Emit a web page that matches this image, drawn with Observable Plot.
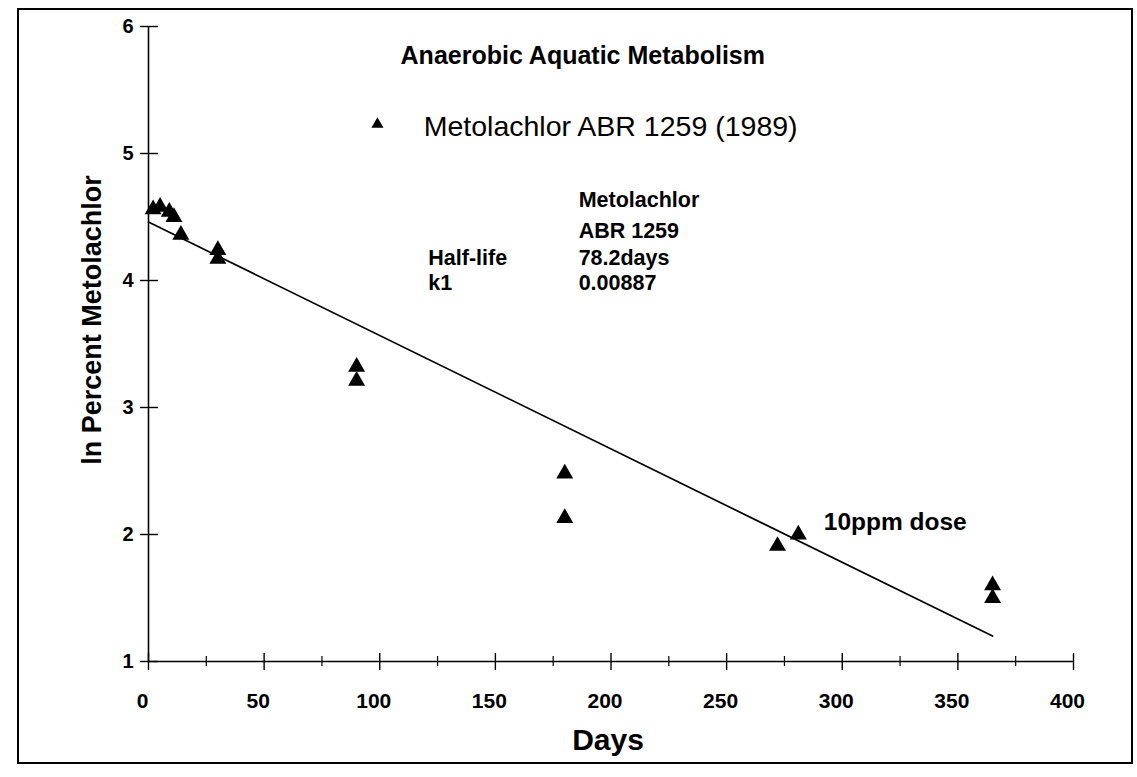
<!DOCTYPE html>
<html>
<head>
<meta charset="utf-8">
<script src="https://cdn.jsdelivr.net/npm/d3@7"></script>
<script src="https://cdn.jsdelivr.net/npm/@observablehq/plot@0.6"></script>
<style>
  html, body { margin: 0; padding: 0; background: #fff; }
  #wrap { position: relative; width: 1137px; height: 777px; overflow: hidden; }
  #border { position: absolute; left: 17px; top: 8px; width: 1112px; height: 752px; border: 2px solid #000; pointer-events: none; }
</style>
</head>
<body>
<div id="wrap"><div id="border"></div></div>
<script>
// Observed data (days vs ln percent metolachlor)
const days      = [2, 5, 9, 11, 14, 30, 30, 90, 90, 180, 180, 272, 281, 365, 365];
const lnPercent = [4.56, 4.58, 4.54, 4.50, 4.36, 4.24, 4.17, 3.32, 3.21, 2.48, 2.13, 1.91, 2.00, 1.60, 1.50];

// Fitted first-order line end points
const fitDays = [0, 365];
const fitLn   = [4.46, 1.20];

// Axis ticks
const xMajorTicks = [0, 50, 100, 150, 200, 250, 300, 350, 400];
const xMinorTicks = [25, 75, 125, 175, 225, 275, 325, 375];
const yTicks = [1, 2, 3, 4, 5, 6];

// Texts
const titleText = "Anaerobic Aquatic Metabolism";
const seriesName = "Metolachlor ABR 1259 (1989)";
const xLabel = "Days";
const yLabel = "ln Percent Metolachlor";
const statHeader = ["Metolachlor", "ABR 1259"];
const statNames = ["Half-life", "k1"];
const statValues = ["78.2days", "0.00887"];
const doseNote = "10ppm dose";

const points = days.map((d, i) => ({day: d, ln: lnPercent[i]}));
const fit = fitDays.map((d, i) => ({day: d, ln: fitLn[i]}));

const font = "'Liberation Sans', Arial, Helvetica, sans-serif";

const chart = Plot.plot({
  width: 1137,
  height: 777,
  marginLeft: 148,
  marginRight: 64,
  marginTop: 26,
  marginBottom: 116,
  x: {domain: [0, 400]},
  y: {domain: [1, 6]},
  style: {fontFamily: font, color: "#000", background: "transparent", overflow: "visible"},
  marks: [
    // axis lines
    Plot.ruleX([0], {stroke: "#000", strokeWidth: 1.6}),
    Plot.ruleY([1], {stroke: "#000", strokeWidth: 1.6}),
    // crossing ticks
    Plot.ruleY(yTicks, {y: d => d, x1: 0, x2: 0, insetLeft: -8, insetRight: -10, stroke: "#000", strokeWidth: 1.4}),
    Plot.ruleX(xMajorTicks, {x: d => d, y1: 1, y2: 1, insetTop: -8, insetBottom: -9, stroke: "#000", strokeWidth: 1.4}),
    Plot.ruleX(xMinorTicks, {x: d => d, y1: 1, y2: 1, insetTop: -5, insetBottom: -5, stroke: "#000", strokeWidth: 1.2}),
    // tick labels
    Plot.axisY({ticks: yTicks, tickSize: 0, tickPadding: 15, fontSize: 20, fontWeight: "bold", label: null, tickFormat: d => d}),
    Plot.axisX({ticks: xMajorTicks, tickSize: 0, tickPadding: 32, dx: -6, fontSize: 21, fontWeight: "bold", label: null, tickFormat: d => d}),
    // axis titles
    Plot.text([xLabel], {text: d => d, frameAnchor: "bottom", textAnchor: "middle", lineAnchor: "middle", dx: -3, dy: 79, fontSize: 30, fontWeight: "bold"}),
    Plot.text([yLabel], {text: d => d, frameAnchor: "left", textAnchor: "middle", lineAnchor: "middle", rotate: -90, dx: -56, dy: -24, fontSize: 27, fontWeight: "bold"}),
    // fitted line
    Plot.line(fit, {x: "day", y: "ln", stroke: "#000", strokeWidth: 1.7}),
    // observations
    Plot.dot(points, {x: "day", y: "ln", symbol: "triangle", r: 6.3, fill: "#000", stroke: "none"}),
    // title
    Plot.text([titleText], {text: d => d, x: 109, y: 5.77, textAnchor: "start", fontSize: 25, fontWeight: "bold"}),
    // legend
    Plot.dot([seriesName], {x: 99, y: 5.23, symbol: "triangle", r: 4.5, fill: "#000"}),
    Plot.text([seriesName], {text: d => d, x: 119, y: 5.21, textAnchor: "start", fontSize: 28.5}),
    // stats block
    Plot.text(statHeader, {text: d => d, x: 186, y: (d, i) => [4.63, 4.39][i], textAnchor: "start", fontSize: 21.5, fontWeight: "bold"}),
    Plot.text(statNames, {text: d => d, x: 121, y: (d, i) => [4.18, 3.98][i], textAnchor: "start", fontSize: 21.5, fontWeight: "bold"}),
    Plot.text(statValues, {text: d => d, x: 186, y: (d, i) => [4.18, 3.98][i], textAnchor: "start", fontSize: 21.5, fontWeight: "bold"}),
    // dose note
    Plot.text([doseNote], {text: d => d, x: 292, y: 2.1, textAnchor: "start", fontSize: 24.5, fontWeight: "bold"})
  ]
});
document.getElementById("wrap").prepend(chart);
</script>
</body>
</html>
